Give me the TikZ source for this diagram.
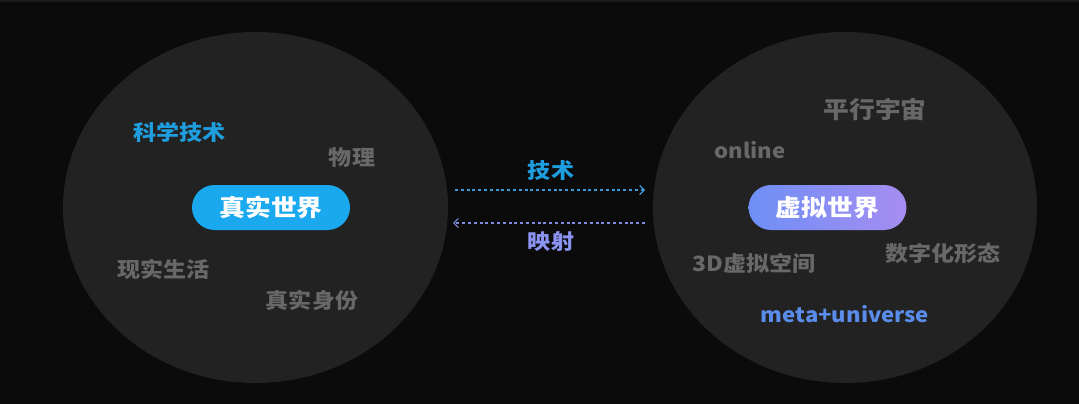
\documentclass[tikz,border=0pt]{standalone}
\usepackage{fontspec}
\newfontfamily\cjk{Noto Sans CJK SC}
\usetikzlibrary{arrows.meta,shadings}
\definecolor{bgc}{HTML}{0B0B0B}
\definecolor{topc}{HTML}{1C1C1C}
\definecolor{circc}{HTML}{222222}
\definecolor{greyt}{HTML}{686868}
\definecolor{bluet}{HTML}{1E9EDF}
\definecolor{pillb}{HTML}{1AA8EE}
\definecolor{pilll}{HTML}{6E8FF6}
\definecolor{pillr}{HTML}{A68DF1}
\definecolor{lavt}{HTML}{8A93EF}
\definecolor{arrb}{HTML}{3A9AD8}
\definecolor{arrl}{HTML}{7F8BDD}
\definecolor{metac}{HTML}{5A8CEB}
\tikzset{
  world/.style={fill=circc, draw=none},
  wtxt/.style={inner sep=0pt, xscale=1.097, font=\cjk\bfseries\fontsize{21}{21}\selectfont},
  lattxt/.style={inner sep=0pt, xscale=1.08, font=\cjk\bfseries\fontsize{20.5}{20.5}\selectfont},
  bigtxt/.style={inner sep=0pt, xscale=1.097, font=\cjk\bfseries\fontsize{23.5}{23.5}\selectfont},
  pill/.style={xscale=1.097, minimum width=144pt, minimum height=45pt, rounded corners=22.5pt, inner sep=0pt, text=white, font=\cjk\bfseries\fontsize{23.5}{23.5}\selectfont},
  link/.style={line width=1.1pt, dash pattern=on 3pt off 2.8pt, -{Straight Barb[length=4.5pt,width=9pt,line width=1.2pt]}}
}
\begin{document}
\begin{tikzpicture}[x=1pt,y=-1pt]
\useasboundingbox (0,0) rectangle (1079,404);
\fill[bgc] (0,0) rectangle (1079,404);
\fill[topc] (0,0) rectangle (1079,2);
% worlds
\fill[world] (255.5,207.5) ellipse [x radius=192.5, y radius=175.5];
\fill[world] (845,207.5) ellipse [x radius=192, y radius=175.5];
% left world
\node[pill, fill=pillb] (real) at (271,207.5) {真实世界};
\node[wtxt, text=bluet] (sci) at (179.5,132) {科学技术};
\node[wtxt, text=greyt] (phy) at (352,158) {物理};
\node[wtxt, text=greyt] (life) at (163.5,269) {现实生活};
\node[wtxt, text=greyt] (ident) at (312,300) {真实身份};
% right world
\node[pill, left color=pilll, right color=pillr] (virt) at (827.5,207.5) {虚拟世界};
\node[bigtxt, text=greyt] (par) at (875,109) {平行宇宙};
\node[lattxt, text=greyt] (online) at (750,150) {online};
\node[wtxt, text=greyt] (digi) at (943,253) {数字化形态};
\node[wtxt, text=greyt] (space) at (754,263) {3D虚拟空间};
\node[lattxt, text=metac] (meta) at (845,314) {meta+universe};
% links
\coordinate (a1) at (455,190);
\coordinate (a2) at (645,190);
\coordinate (b1) at (645,223);
\coordinate (b2) at (453,223);
\draw[link, arrb] (a1) -- (a2);
\draw[link, arrl] (b1) -- (b2);
\node[wtxt, text=bluet] (tech) at (551,171) {技术};
\node[wtxt, text=lavt] (map) at (551,242) {映射};
\end{tikzpicture}
\end{document}
